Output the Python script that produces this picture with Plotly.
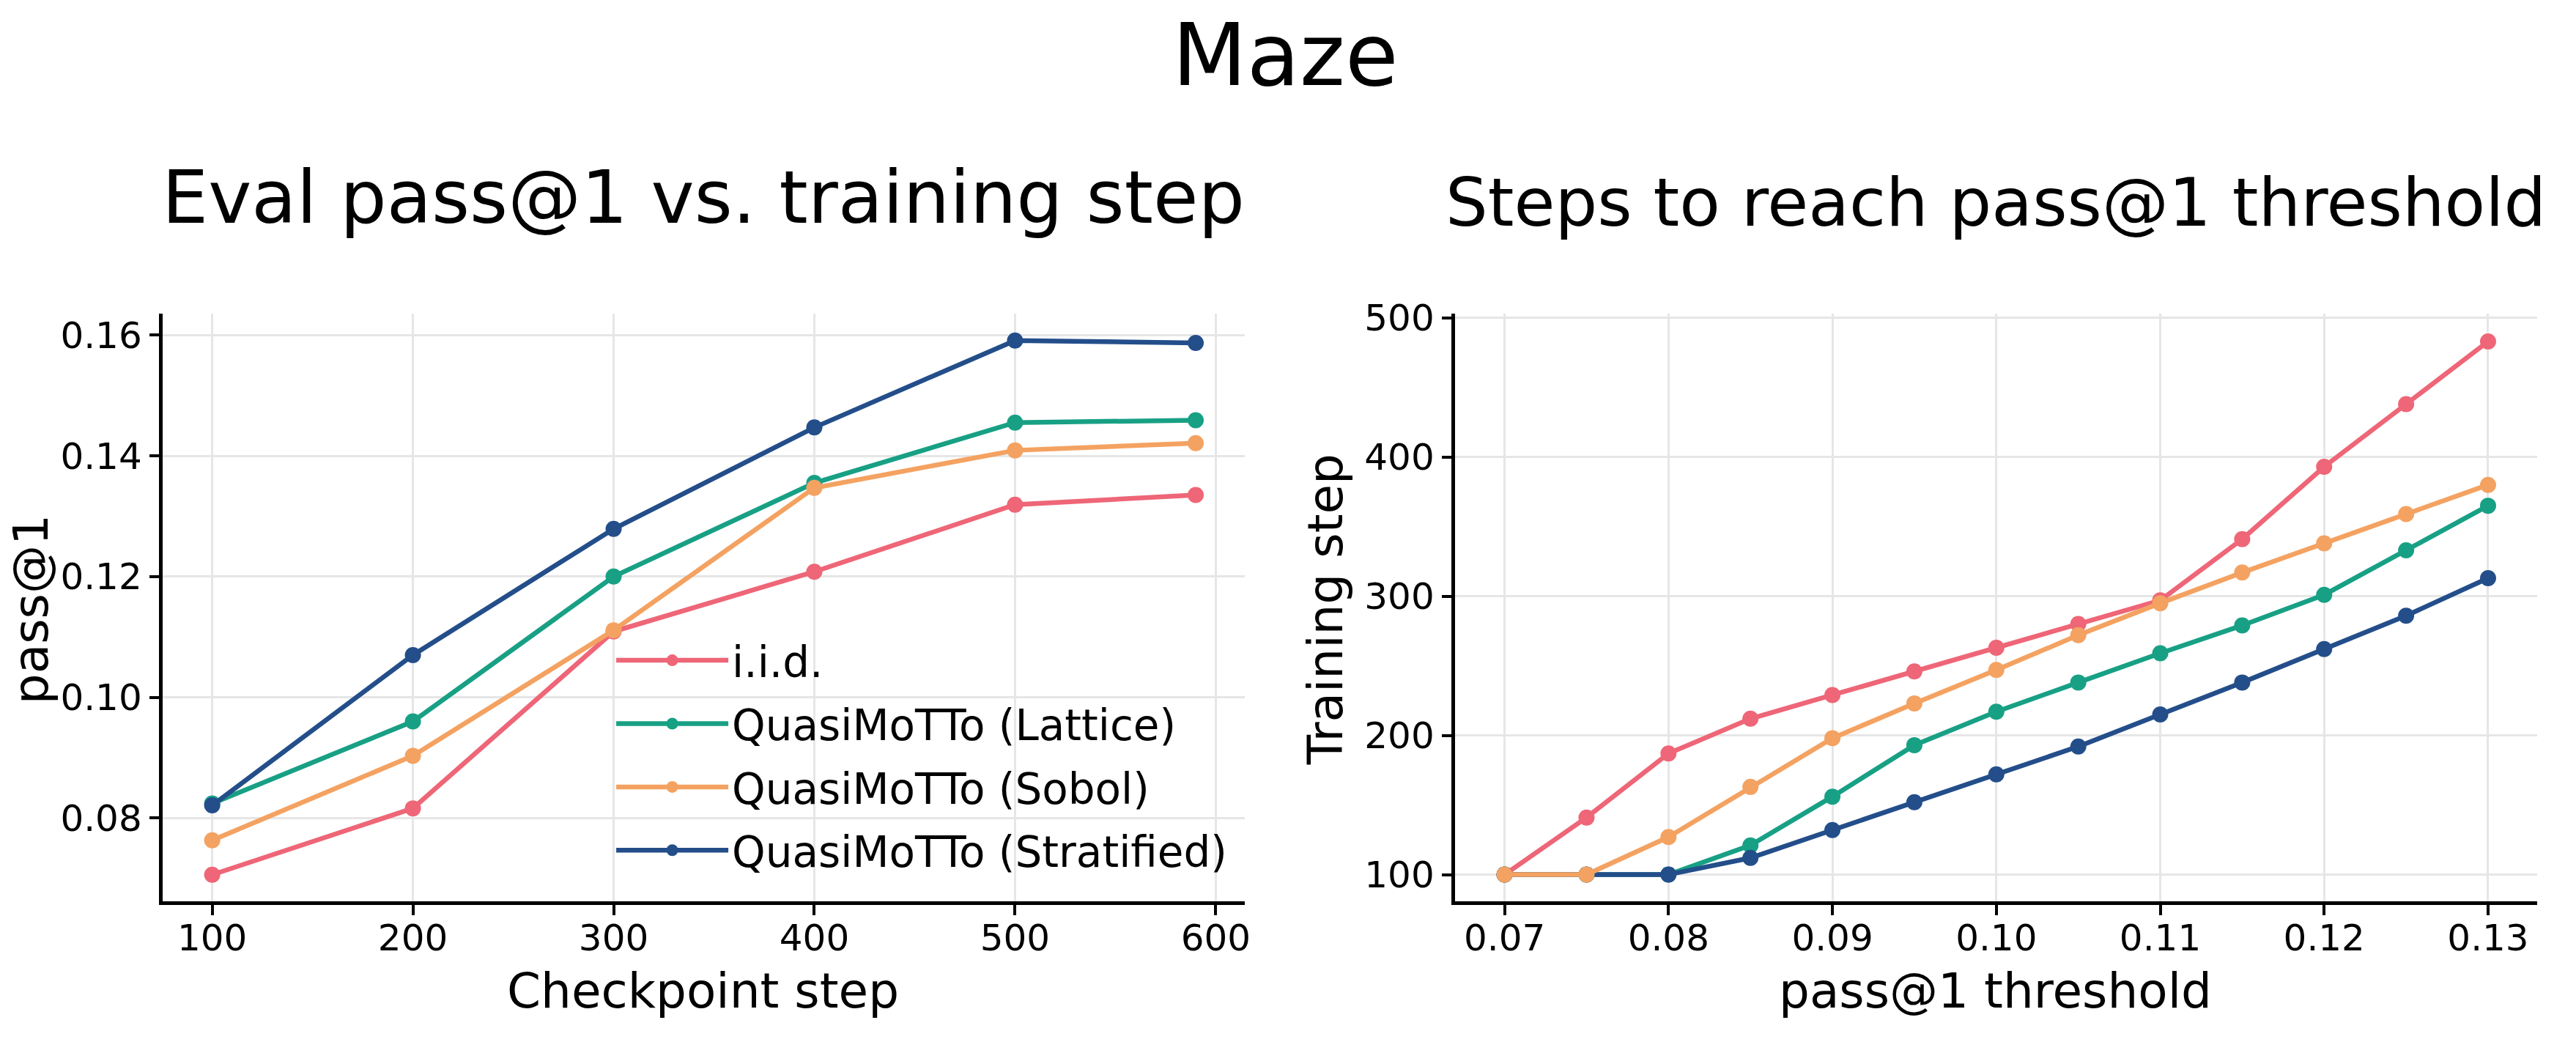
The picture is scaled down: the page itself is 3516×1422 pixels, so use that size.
import plotly.graph_objects as go

# ---------------- data ----------------
series_names = ["i.i.d.", "QuasiMoTTo (Lattice)", "QuasiMoTTo (Sobol)", "QuasiMoTTo (Stratified)"]
series_colors = ["#EE6677", "#18A085", "#F4A261", "#234E8A"]

checkpoint_steps = [100, 200, 300, 400, 500, 590]
pass1_iid = [0.0706, 0.0816, 0.1109, 0.1208, 0.1319, 0.1335]
pass1_lattice = [0.0824, 0.0960, 0.1200, 0.1355, 0.1455, 0.1459]
pass1_sobol = [0.0763, 0.0903, 0.1111, 0.1347, 0.1409, 0.1421]
pass1_stratified = [0.0821, 0.1070, 0.1279, 0.1447, 0.1591, 0.1587]

thresholds = [0.07, 0.075, 0.08, 0.085, 0.09, 0.095, 0.10, 0.105, 0.11, 0.115, 0.12, 0.125, 0.13]
steps_iid = [100, 141, 187, 212, 229, 246, 263, 280, 297, 341, 393, 438, 483]
steps_lattice = [100, 100, 100, 121, 156, 193, 217, 238, 259, 279, 301, 333, 365]
steps_sobol = [100, 100, 127, 163, 198, 223, 247, 272, 295, 317, 338, 359, 380]
steps_stratified = [100, 100, 100, 112, 132, 152, 172, 192, 215, 238, 262, 286, 313]

left_xticks = [100, 200, 300, 400, 500, 600]
left_yticks = [0.08, 0.10, 0.12, 0.14, 0.16]
right_xticks = [0.07, 0.08, 0.09, 0.10, 0.11, 0.12, 0.13]
right_yticks = [100, 200, 300, 400, 500]

suptitle = "Maze"
left_title = "Eval pass@1 vs. training step"
right_title = "Steps to reach pass@1 threshold"
left_xlabel = "Checkpoint step"
left_ylabel = "pass@1"
right_xlabel = "pass@1 threshold"
right_ylabel = "Training step"

# ---------------- figure ----------------
W, H = 3516, 1422
FONT = "DejaVu Sans"
LW = 6.5
MS = 22

fig = go.Figure()

left_data = [pass1_iid, pass1_lattice, pass1_sobol, pass1_stratified]
for name, color, ys in zip(series_names, series_colors, left_data):
    fig.add_trace(go.Scatter(
        x=checkpoint_steps, y=ys, name=name, mode="lines+markers",
        line=dict(color=color, width=LW), marker=dict(color=color, size=MS),
        xaxis="x", yaxis="y", legendgroup=name, showlegend=True,
    ))

right_data = [steps_iid, steps_lattice, steps_sobol, steps_stratified]
right_order = [0, 1, 3, 2]
for i in right_order:
    fig.add_trace(go.Scatter(
        x=thresholds, y=right_data[i], name=series_names[i], mode="lines+markers",
        line=dict(color=series_colors[i], width=LW), marker=dict(color=series_colors[i], size=MS),
        xaxis="x2", yaxis="y2", legendgroup=series_names[i], showlegend=False,
    ))

def px_x(p):
    return p / W

def px_y(p):
    return 1 - p / H

ax_common = dict(
    showline=True, linecolor="black", linewidth=4.5, mirror=False,
    ticks="outside", ticklen=14, tickwidth=4, tickcolor="black",
    showgrid=True, gridcolor="#e6e6e6", gridwidth=3,
    zeroline=False,
    tickfont=dict(family=FONT, size=50, color="black"),
)

x_dom_left = [px_x(223), px_x(1703)]
x_dom_right = [px_x(1991), px_x(3471)]
y_dom = [px_y(1227), px_y(412)]

fig.update_layout(
    width=W, height=H,
    margin=dict(l=0, r=0, t=0, b=0),
    paper_bgcolor="white", plot_bgcolor="white",
    font=dict(family=FONT, color="black"),
    xaxis=dict(domain=x_dom_left, range=[75.5, 614.5], tickvals=left_xticks,
               anchor="y", ticklabelstandoff=-12, **ax_common),
    yaxis=dict(domain=y_dom, range=[0.0662, 0.1636], tickvals=left_yticks,
               tickformat=".2f", anchor="x", **ax_common),
    xaxis2=dict(domain=x_dom_right, range=[0.067, 0.133], tickvals=right_xticks,
                tickformat=".2f", anchor="y2", ticklabelstandoff=-12, **ax_common),
    yaxis2=dict(domain=y_dom, range=[80.8, 503.2], tickvals=right_yticks,
                anchor="x2", **ax_common),
    legend=dict(
        x=px_x(838), y=px_y(848), xanchor="left", yanchor="top",
        bgcolor="rgba(255,255,255,0)", borderwidth=0,
        font=dict(family=FONT, size=58, color="black"),
        itemwidth=153, tracegroupgap=8,
    ),
    showlegend=True,
)

ann = []
ann.append(dict(text=suptitle, x=0.5, y=px_y(54), xref="paper", yref="paper",
                xanchor="center", yanchor="middle", showarrow=False,
                font=dict(family=FONT, size=118, color="black")))
ann.append(dict(text=left_title, x=px_x(962), y=px_y(251), xref="paper", yref="paper",
                xanchor="center", yanchor="middle", showarrow=False,
                font=dict(family=FONT, size=100, color="black")))
ann.append(dict(text=right_title, x=px_x(2730), y=px_y(259), xref="paper", yref="paper",
                xanchor="center", yanchor="middle", showarrow=False,
                font=dict(family=FONT, size=91, color="black")))
ann.append(dict(text=left_xlabel, x=px_x(962), y=px_y(1351), xref="paper", yref="paper",
                xanchor="center", yanchor="middle", showarrow=False,
                font=dict(family=FONT, size=66, color="black")))
ann.append(dict(text=right_xlabel, x=px_x(2730), y=px_y(1351), xref="paper", yref="paper",
                xanchor="center", yanchor="middle", showarrow=False,
                font=dict(family=FONT, size=66, color="black")))
ann.append(dict(text=left_ylabel, x=px_x(42), y=px_y(822), xref="paper", yref="paper",
                xanchor="center", yanchor="middle", showarrow=False, textangle=-90,
                font=dict(family=FONT, size=66, color="black")))
ann.append(dict(text=right_ylabel, x=px_x(1813), y=px_y(822), xref="paper", yref="paper",
                xanchor="center", yanchor="middle", showarrow=False, textangle=-90,
                font=dict(family=FONT, size=66, color="black")))
fig.update_layout(annotations=ann)

fig.write_html("out.html")
